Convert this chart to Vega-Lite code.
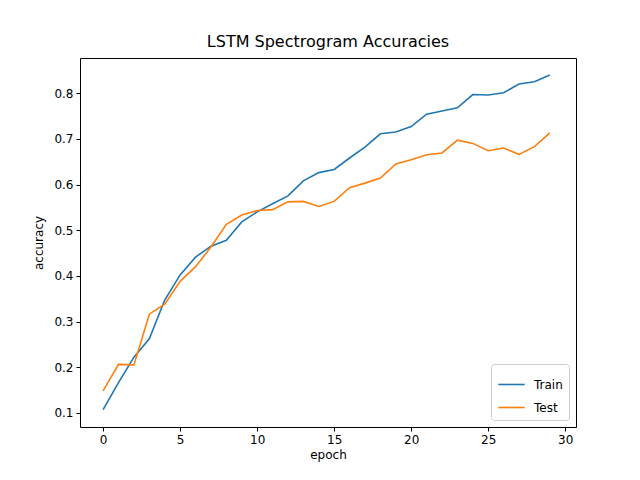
{
  "$schema": "https://vega.github.io/schema/vega-lite/v6.json",
  "width": 496,
  "height": 369,
  "autosize": "none",
  "padding": {"left": 80, "top": 58, "right": 64, "bottom": 53},
  "title": {"text": "LSTM Spectrogram Accuracies", "font": "DejaVu Sans", "fontSize": 16, "fontWeight": "normal", "offset": 8},
  "data": {"values": [
    {"epoch":0,"s":"Train","acc":0.107},{"epoch":1,"s":"Train","acc":0.166},{"epoch":2,"s":"Train","acc":0.222},{"epoch":3,"s":"Train","acc":0.262},{"epoch":4,"s":"Train","acc":0.347},{"epoch":5,"s":"Train","acc":0.402},{"epoch":6,"s":"Train","acc":0.441},{"epoch":7,"s":"Train","acc":0.465},{"epoch":8,"s":"Train","acc":0.478},{"epoch":9,"s":"Train","acc":0.518},{"epoch":10,"s":"Train","acc":0.540},{"epoch":11,"s":"Train","acc":0.558},{"epoch":12,"s":"Train","acc":0.575},{"epoch":13,"s":"Train","acc":0.608},{"epoch":14,"s":"Train","acc":0.626},{"epoch":15,"s":"Train","acc":0.633},{"epoch":16,"s":"Train","acc":0.658},{"epoch":17,"s":"Train","acc":0.682},{"epoch":18,"s":"Train","acc":0.711},{"epoch":19,"s":"Train","acc":0.715},{"epoch":20,"s":"Train","acc":0.727},{"epoch":21,"s":"Train","acc":0.754},{"epoch":22,"s":"Train","acc":0.761},{"epoch":23,"s":"Train","acc":0.768},{"epoch":24,"s":"Train","acc":0.797},{"epoch":25,"s":"Train","acc":0.796},{"epoch":26,"s":"Train","acc":0.801},{"epoch":27,"s":"Train","acc":0.820},{"epoch":28,"s":"Train","acc":0.825},{"epoch":29,"s":"Train","acc":0.840},
    {"epoch":0,"s":"Test","acc":0.148},{"epoch":1,"s":"Test","acc":0.206},{"epoch":2,"s":"Test","acc":0.205},{"epoch":3,"s":"Test","acc":0.316},{"epoch":4,"s":"Test","acc":0.338},{"epoch":5,"s":"Test","acc":0.388},{"epoch":6,"s":"Test","acc":0.420},{"epoch":7,"s":"Test","acc":0.463},{"epoch":8,"s":"Test","acc":0.513},{"epoch":9,"s":"Test","acc":0.533},{"epoch":10,"s":"Test","acc":0.543},{"epoch":11,"s":"Test","acc":0.545},{"epoch":12,"s":"Test","acc":0.562},{"epoch":13,"s":"Test","acc":0.563},{"epoch":14,"s":"Test","acc":0.552},{"epoch":15,"s":"Test","acc":0.563},{"epoch":16,"s":"Test","acc":0.593},{"epoch":17,"s":"Test","acc":0.603},{"epoch":18,"s":"Test","acc":0.614},{"epoch":19,"s":"Test","acc":0.645},{"epoch":20,"s":"Test","acc":0.654},{"epoch":21,"s":"Test","acc":0.665},{"epoch":22,"s":"Test","acc":0.669},{"epoch":23,"s":"Test","acc":0.697},{"epoch":24,"s":"Test","acc":0.690},{"epoch":25,"s":"Test","acc":0.674},{"epoch":26,"s":"Test","acc":0.680},{"epoch":27,"s":"Test","acc":0.666},{"epoch":28,"s":"Test","acc":0.683},{"epoch":29,"s":"Test","acc":0.713}
  ]},
  "mark": {"type": "line", "strokeWidth": 1.6},
  "encoding": {
    "x": {"field": "epoch", "type": "quantitative", "title": "epoch",
      "scale": {"domain": [-1.5, 30.7], "nice": false, "zero": false},
      "axis": {"values": [0, 5, 10, 15, 20, 25, 30]}},
    "y": {"field": "acc", "type": "quantitative", "title": "accuracy",
      "scale": {"domain": [0.069, 0.877], "nice": false, "zero": false},
      "axis": {"values": [0.1, 0.2, 0.3, 0.4, 0.5, 0.6, 0.7, 0.8], "format": ".1f"}},
    "color": {"field": "s", "type": "nominal", "title": null,
      "scale": {"domain": ["Train", "Test"], "range": ["#1f77b4", "#ff7f0e"]},
      "legend": {"orient": "bottom-right", "symbolType": "stroke", "symbolSize": 700, "symbolStrokeWidth": 1.6, "labelFontSize": 12, "labelFont": "DejaVu Sans", "labelOffset": 8, "strokeColor": "#cccccc", "cornerRadius": 3, "padding": 6, "fillColor": "white", "offset": 7}}
  },
  "config": {
    "view": {"stroke": "black", "strokeWidth": 1},
    "axis": {"grid": false, "domain": false, "tickColor": "black", "tickSize": 4, "labelColor": "black", "labelFont": "DejaVu Sans", "labelFontSize": 12, "titleFont": "DejaVu Sans", "titleFontSize": 12, "titleFontWeight": "normal", "titleColor": "black", "labelPadding": 3},
    "axisY": {"titlePadding": 8}
  }
}
